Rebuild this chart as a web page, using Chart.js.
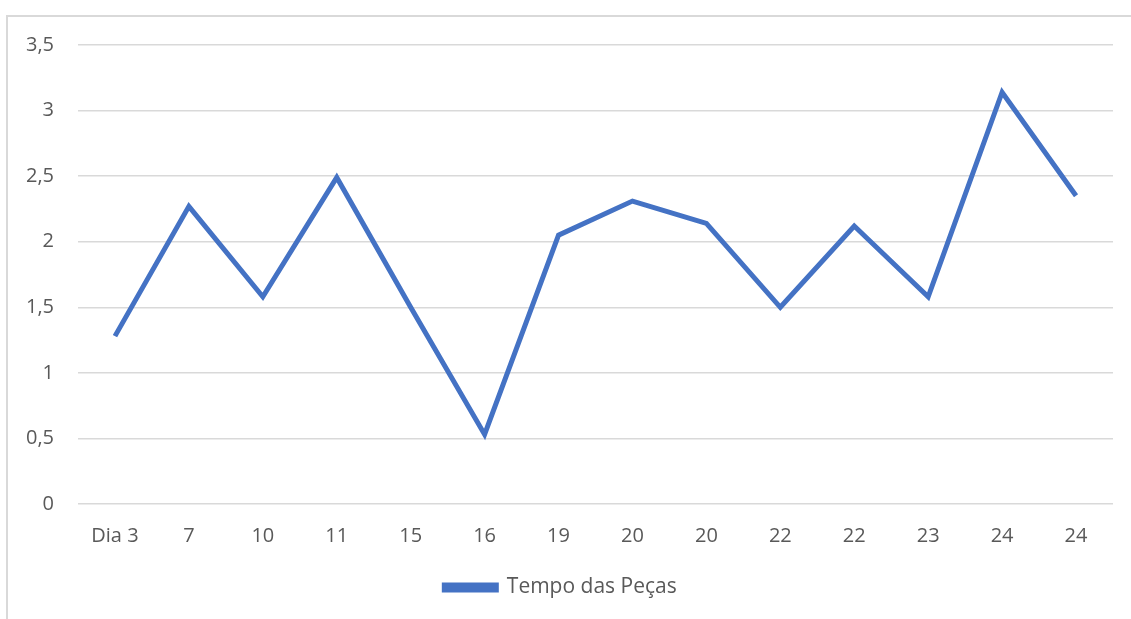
<!DOCTYPE html>
<html lang="pt">
<head>
  <meta charset="UTF-8" />
  <title>Tempo das Peças</title>
  <script src="https://cdn.jsdelivr.net/npm/chart.js"></script>
  <style>
    html, body { margin: 0; padding: 0; background: #fff; overflow: hidden; }
    .frame {
      position: absolute; left: 6px; top: 15px;
      width: 1140px; height: 620px;
      border: 2px solid #d9d9d9;
    }
    .chart-wrapper { position: absolute; left: 0; top: 0; width: 1123px; height: 602px; }
  </style>
</head>
<body>
<div class="frame">
  <div class="chart-wrapper"><canvas id="tempoChart"></canvas></div>
</div>
<script>
  // dados
  const categorias = ["Dia 3", "7", "10", "11", "15", "16", "19", "20", "20", "22", "22", "23", "24", "24"];
  const tempos = [1.28, 2.27, 1.58, 2.49, 1.5, 0.53, 2.05, 2.31, 2.14, 1.5, 2.12, 1.58, 3.14, 2.35];
  const nomeSerie = "Tempo das Peças";
  const corSerie = "#4472c4";
  const textoCor = "#595959";
  const gradeCor = "#d9d9d9";
  const fonte = { family: "'Open Sans', sans-serif", size: 20 };

  const ctx = document.getElementById("tempoChart").getContext("2d");
  new Chart(ctx, {
    type: "line",
    data: {
      labels: categorias,
      datasets: [{
        label: nomeSerie,
        data: tempos,
        borderColor: corSerie,
        backgroundColor: corSerie,
        borderWidth: 5,
        pointRadius: 0,
        tension: 0,
        fill: false
      }]
    },
    options: {
      responsive: true,
      maintainAspectRatio: false,
      animation: false,
      layout: { padding: { top: 28, right: 18, left: 0, bottom: 11 } },
      plugins: {
        tooltip: { enabled: false },
        legend: {
          position: "bottom",
          labels: {
            color: textoCor,
            font: { family: "'Open Sans', sans-serif", size: 21 },
            boxWidth: 52,
            boxHeight: 5,
            padding: 10
          }
        }
      },
      scales: {
        x: {
          offset: true,
          grid: { display: false, drawTicks: false },
          border: { display: false },
          ticks: {
            color: textoCor,
            font: fonte,
            padding: 20,
            maxRotation: 0,
            autoSkip: false
          },
          afterFit: s => { s.height = 63; }
        },
        y: {
          min: 0,
          max: 3.5,
          grid: { color: gradeCor, lineWidth: 1.5, drawTicks: false },
          border: { display: false },
          ticks: {
            stepSize: 0.5,
            color: textoCor,
            font: fonte,
            padding: 24,
            callback: v => String(v).replace(".", ",")
          },
          afterFit: s => { s.width = 70; s.paddingTop = 0; s.paddingBottom = 0; }
        }
      }
    }
  });
</script>
</body>
</html>
